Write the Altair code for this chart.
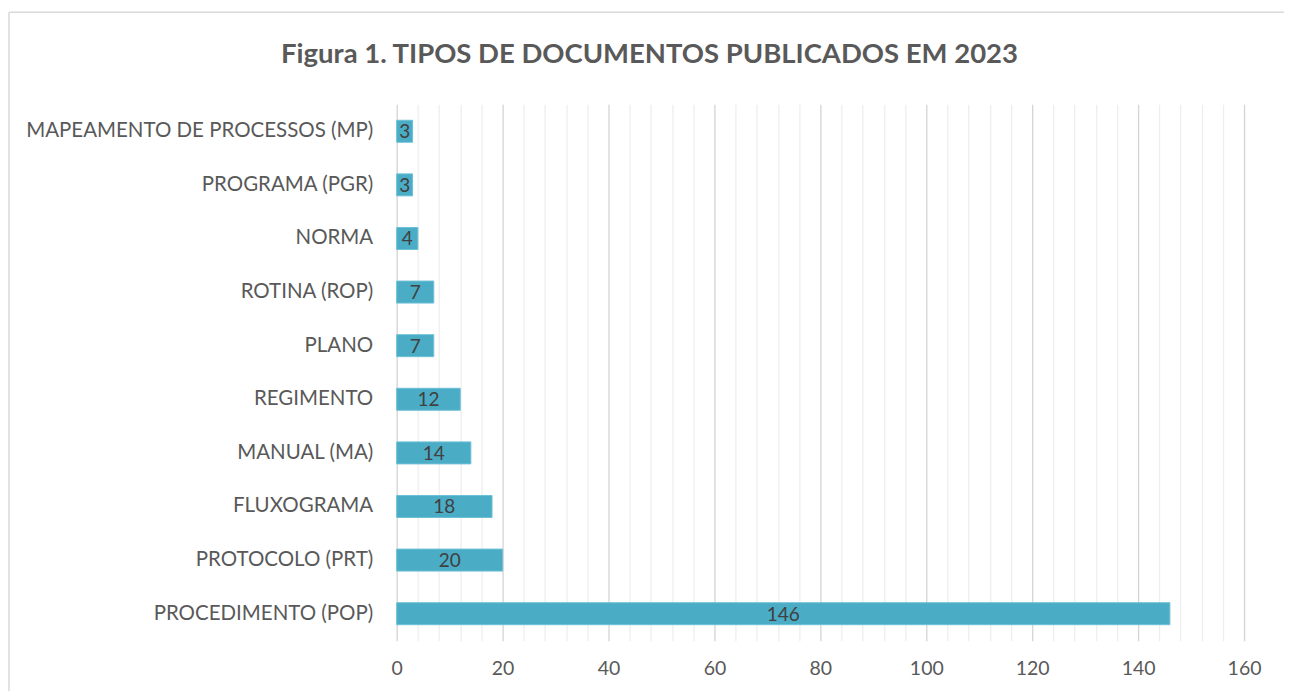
import altair as alt
import pandas as pd

categories = [
    "MAPEAMENTO DE PROCESSOS (MP)",
    "PROGRAMA (PGR)",
    "NORMA",
    "ROTINA (ROP)",
    "PLANO",
    "REGIMENTO\u00a0",
    "MANUAL (MA)",
    "FLUXOGRAMA\u00a0",
    "PROTOCOLO (PRT)",
    "PROCEDIMENTO (POP)",
]
values = [3, 3, 4, 7, 7, 12, 14, 18, 20, 146]
tick_values = list(range(0, 161, 4))
title_text = "Figura 1. TIPOS DE DOCUMENTOS PUBLICADOS EM 2023"

df = pd.DataFrame({"tipo": categories, "n": values})

FONT = "Lato"
GRAY = "#595959"

y_enc = alt.Y(
    "tipo:N",
    sort=categories,
    title=None,
    scale=alt.Scale(paddingInner=0.59, paddingOuter=0.3),
    axis=alt.Axis(
        domain=False,
        ticks=False,
        grid=False,
        labelPadding=24,
        labelFont=FONT,
        labelFontSize=20.5,
        labelColor=GRAY,
        labelLimit=420,
    ),
)

x_scale = alt.Scale(domain=[0, 160], nice=False)

bars = alt.Chart(df).mark_bar(
    color="#4bacc6", stroke="#6cc0d6", strokeWidth=1
).encode(
    x=alt.X(
        "n:Q",
        scale=x_scale,
        title=None,
        axis=alt.Axis(
            values=tick_values,
            tickCount=60,
            labelExpr="datum.value % 20 === 0 ? datum.label : ''",
            labelOverlap=False,
            labelFlush=False,
            domain=False,
            ticks=False,
            labelPadding=19,
            labelFont=FONT,
            labelFontSize=19.5,
            labelColor=GRAY,
            grid=True,
            gridColor={
                "condition": {"test": "datum.value % 20 === 0", "value": "#d4d4d4"},
                "value": "#eeeeee",
            },
            gridWidth=1.3,
        ),
    ),
    y=y_enc,
)

labels = alt.Chart(df).transform_calculate(mid="datum.n / 2").mark_text(
    font=FONT, fontSize=19, color="#404040", baseline="middle", dy=1
).encode(
    x=alt.X("mid:Q", scale=x_scale),
    y=alt.Y("tipo:N", sort=categories),
    text="n:Q",
)

one = pd.DataFrame({"a": [0]})
frame_top = alt.Chart(one).mark_rule(
    color="#d9d9d9", strokeWidth=1.5, clip=False
).encode(
    x=alt.value(-388), x2=alt.value(900), y=alt.value(-92)
)
frame_left = alt.Chart(one).mark_rule(
    color="#d9d9d9", strokeWidth=1.5, clip=False
).encode(
    x=alt.value(-388), y=alt.value(-92), y2=alt.value(600)
)

chart = alt.layer(frame_top, frame_left, bars, labels).properties(
    width=848,
    height=537,
    background="white",
    title=alt.TitleParams(
        title_text,
        font=FONT,
        fontSize=27.5,
        fontWeight="bold",
        color=GRAY,
        anchor="middle",
        frame="group",
        offset=-57,
        dx=-171,
    ),
    autosize=alt.AutoSizeParams(type="none"),
    padding={"left": 389, "top": 96, "right": 40, "bottom": 50},
).configure_view(stroke="transparent", strokeWidth=0)

chart.save("out.html", embed_options={"renderer": "svg", "actions": False})
